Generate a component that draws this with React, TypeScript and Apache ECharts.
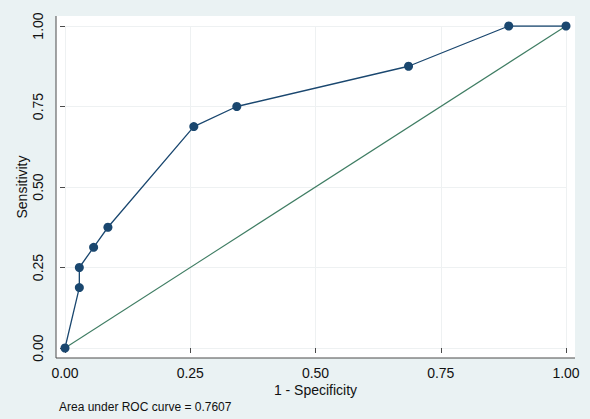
import React, { useEffect, useRef } from "react";
import * as echarts from "echarts";

const falsePositiveRate = [0, 0.0286, 0.0286, 0.0571, 0.0857, 0.2571, 0.3429, 0.6857, 0.8857, 1];
const sensitivity = [0, 0.1875, 0.25, 0.3125, 0.375, 0.6875, 0.75, 0.875, 1, 1];
const referenceX = [0, 1];
const referenceY = [0, 1];
const tickValues = [0, 0.25, 0.5, 0.75, 1];
const xTitle = "1 - Specificity";
const yTitle = "Sensitivity";
const aucNote = "Area under ROC curve = 0.7607";

const W = 590;
const H = 419;
const FONT = "'Liberation Sans', Arial, Helvetica, sans-serif";

export default function App() {
  const ref = useRef<HTMLDivElement>(null);
  useEffect(() => {
    if (!ref.current) return;
    const chart = echarts.init(ref.current, undefined, { renderer: "svg" });
    const gl = 65, gr = 566, gt = 26, gb = 348;
    const pl = 56, pr = 575, pt = 16, pb = 358;
    const axisColor = "#4a4a4a";
    chart.setOption({
      animation: false,
      backgroundColor: "#EAF2F3",
      textStyle: { fontFamily: FONT },
      grid: { left: gl, right: W - gr, top: gt, bottom: H - gb },
      graphic: [
        {
          type: "rect",
          z: -10,
          silent: true,
          shape: { x: pl, y: pt, width: pr - pl, height: pb - pt },
          style: { fill: "#ffffff" },
        },
        {
          type: "line",
          z: 10,
          silent: true,
          shape: { x1: pl, y1: pt, x2: pl, y2: pb },
          style: { stroke: axisColor, lineWidth: 1 },
        },
        {
          type: "line",
          z: 10,
          silent: true,
          shape: { x1: pl, y1: pb, x2: pr, y2: pb },
          style: { stroke: axisColor, lineWidth: 1 },
        },
        {
          type: "text",
          left: 59,
          top: 401,
          style: { text: aucNote, fill: "#111", font: `12px ${FONT}` },
        },
      ],
      xAxis: {
        type: "value",
        min: 0,
        max: 1,
        interval: 0.25,
        offset: pb - gb,
        name: xTitle,
        nameLocation: "middle",
        nameGap: 25,
        nameMoveOverlap: false,
        nameTextStyle: { fontSize: 14, color: "#111", fontFamily: FONT },
        axisLine: { show: false },
        axisTick: { show: true, length: 5, lineStyle: { color: axisColor } },
        axisLabel: {
          fontSize: 14,
          color: "#111",
          margin: 8,
          fontFamily: FONT,
          formatter: (v: number) => (tickValues.includes(v) ? v.toFixed(2) : ""),
        },
        splitLine: { show: true, lineStyle: { color: "#EEF1F2", width: 1 } },
      },
      yAxis: {
        type: "value",
        min: 0,
        max: 1,
        interval: 0.25,
        offset: gl - pl,
        name: yTitle,
        nameLocation: "middle",
        nameGap: 27,
        nameMoveOverlap: false,
        nameTextStyle: { fontSize: 14, color: "#111", fontFamily: FONT },
        axisLine: { show: false },
        axisTick: { show: true, length: 5, lineStyle: { color: axisColor } },
        axisLabel: {
          fontSize: 14,
          color: "#111",
          rotate: 90,
          margin: 11,
          fontFamily: FONT,
          formatter: (v: number) => (tickValues.includes(v) ? v.toFixed(2) : ""),
        },
        splitLine: { show: true, lineStyle: { color: "#EEF1F2", width: 1 } },
      },
      series: [
        {
          type: "line",
          data: referenceX.map((x, i) => [x, referenceY[i]]),
          symbol: "none",
          lineStyle: { color: "#3F7D63", width: 1.1 },
          z: 2,
        },
        {
          type: "line",
          data: falsePositiveRate.map((x, i) => [x, sensitivity[i]]),
          symbol: "circle",
          symbolSize: 9,
          itemStyle: { color: "#1A476F" },
          lineStyle: { color: "#1A476F", width: 1.3 },
          z: 3,
        },
      ],
    });
    return () => chart.dispose();
  }, []);
  return (
    <div
      ref={ref}
      style={{ position: "fixed", left: 0, top: 0, width: W, height: H }}
    />
  );
}
